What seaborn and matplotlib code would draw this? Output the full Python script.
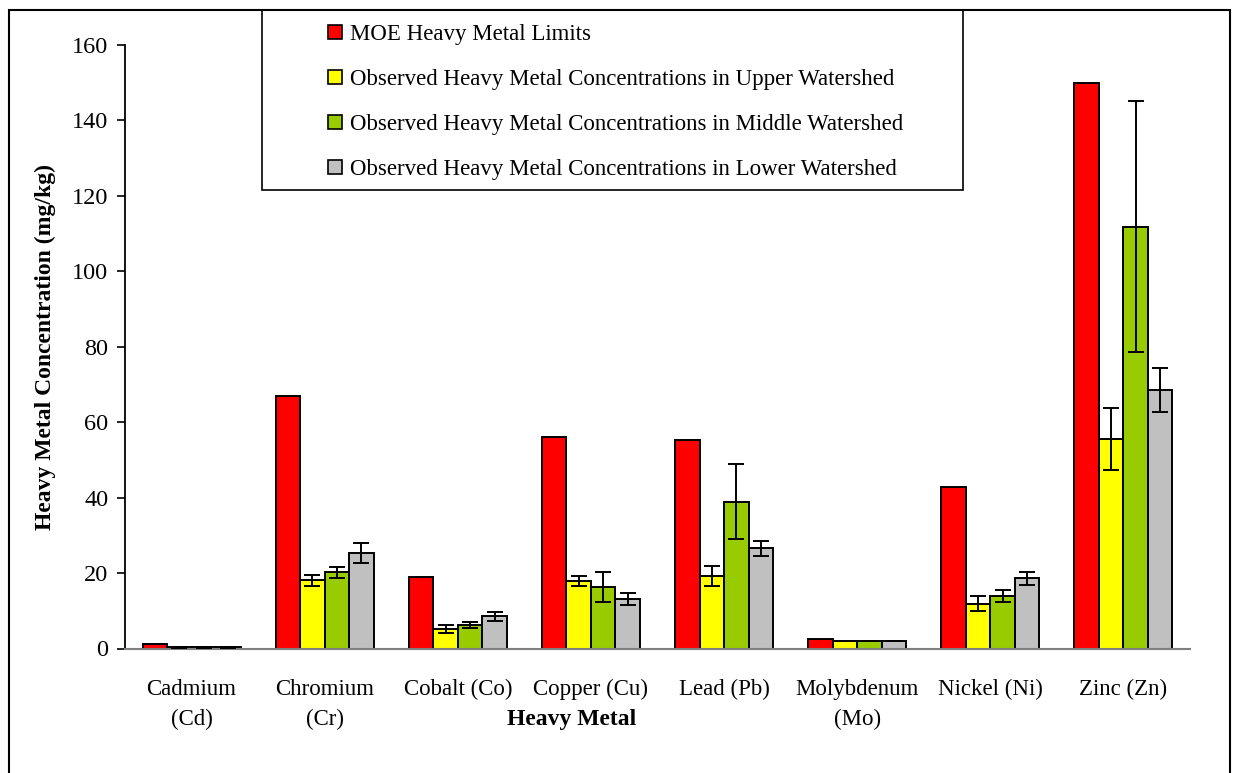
import matplotlib
matplotlib.use("Agg")
import matplotlib.pyplot as plt
from matplotlib.patches import Rectangle, Patch
import seaborn as sns
import pandas as pd

# Heavy metal categories (x axis)
metals = ["Cadmium\n(Cd)", "Chromium\n(Cr)", "Cobalt (Co)", "Copper (Cu)",
          "Lead (Pb)", "Molybdenum\n(Mo)", "Nickel (Ni)", "Zinc (Zn)"]

series = ["MOE Heavy Metal Limits",
          "Observed Heavy Metal Concentrations in Upper Watershed",
          "Observed Heavy Metal Concentrations in Middle Watershed",
          "Observed Heavy Metal Concentrations in Lower Watershed"]

# Concentrations in mg/kg
moe_limits = [1.1, 67.0, 19.0, 56.0, 55.2, 2.4, 42.8, 150.0]
upper = [0.3, 18.1, 5.1, 17.9, 19.2, 2.0, 11.9, 55.5]
middle = [0.3, 20.2, 6.3, 16.3, 38.9, 2.0, 13.9, 111.8]
lower = [0.3, 25.3, 8.6, 13.2, 26.6, 2.0, 18.6, 68.6]

# Standard errors of the observed means
upper_err = [0.05, 1.5, 1.0, 1.2, 2.7, 0.1, 2.0, 8.3]
middle_err = [0.05, 1.4, 0.8, 3.9, 10.0, 0.1, 1.5, 33.3]
lower_err = [0.05, 2.6, 1.2, 1.6, 2.0, 0.1, 1.8, 5.8]

colors = ["#FF0000", "#FFFF00", "#99CC00", "#C0C0C0"]

values = [moe_limits, upper, middle, lower]
errors = [None, upper_err, middle_err, lower_err]

rows = []
for s, vals in zip(series, values):
    for m, v in zip(metals, vals):
        rows.append({"metal": m, "series": s, "value": v})
df = pd.DataFrame(rows)

sns.set_theme(style="white")
plt.rcParams["font.family"] = ["Liberation Serif", "DejaVu Serif"]
plt.rcParams.update({"text.color": "black", "axes.labelcolor": "black",
                     "xtick.color": "black", "ytick.color": "black"})

W, H = 1233, 773
fig = plt.figure(figsize=(W / 100, H / 100), dpi=100)
fig.patch.set_facecolor("white")
ax = fig.add_axes([125 / W, 1 - 648.5 / H, (1190 - 125) / W, (648.5 - 45) / H])

sns.barplot(data=df, x="metal", y="value", hue="series",
            order=metals, hue_order=series, palette=colors,
            saturation=1, width=0.736, gap=0, errorbar=None,
            edgecolor="black", linewidth=1.4, legend=False, ax=ax)

# Error bars on the observed series
for idx in range(1, 4):
    bars = ax.containers[idx]
    xs = [b.get_x() + b.get_width() / 2 for b in bars]
    ax.errorbar(xs, values[idx], yerr=errors[idx], fmt="none",
                ecolor="black", elinewidth=1.4, capsize=5.5, capthick=1.4,
                zorder=5)

ax.set_ylim(0, 160)
ax.set_yticks(range(0, 161, 20))
ax.set_xlim(-0.5, 7.5)

for side in ["top", "right"]:
    ax.spines[side].set_visible(False)
ax.spines["left"].set_color("black")
ax.spines["left"].set_linewidth(1.3)
ax.spines["bottom"].set_color("#808080")
ax.spines["bottom"].set_linewidth(1.5)

ax.tick_params(axis="y", direction="out", length=6, width=1.2,
               color="black", labelsize=17.5, pad=6, left=True)
ax.tick_params(axis="x", length=0, labelsize=16.5, pad=22)
for lab in ax.get_xticklabels():
    lab.set_linespacing(1.55)

ax.set_ylabel("Heavy Metal Concentration (mg/kg)", fontsize=17,
              fontweight="bold")
ax.yaxis.set_label_coords((56 - 125) / 1065, 0.5)
ax.set_xlabel("Heavy Metal", fontsize=17, fontweight="bold")
ax.xaxis.set_label_coords((572 - 125) / 1065, -(709 - 648.5) / 603.5)

# Legend with its own frame
handles = [Patch(facecolor=c, edgecolor="black", linewidth=1.2) for c in colors]
fig.legend(handles, series, loc="upper left",
           bbox_to_anchor=(328 / W, 1 - 24 / H), bbox_transform=fig.transFigure,
           frameon=False, fontsize=16.5, handlelength=0.6, handleheight=0.6,
           handletextpad=0.35, labelspacing=1.05, borderpad=0,
           borderaxespad=0)
fig.patches.append(Rectangle((262 / W, 1 - 190 / H), (963 - 262) / W, 180 / H,
                             transform=fig.transFigure, fill=False,
                             edgecolor="black", linewidth=1.2, zorder=10))

# Chart area border
fig.patches.append(Rectangle((9 / W, -0.05), (1230 - 9) / W, 1 - 10 / H + 0.05,
                             transform=fig.transFigure, fill=False,
                             edgecolor="black", linewidth=1.5, zorder=10))

fig.savefig("out.png", dpi=100)
